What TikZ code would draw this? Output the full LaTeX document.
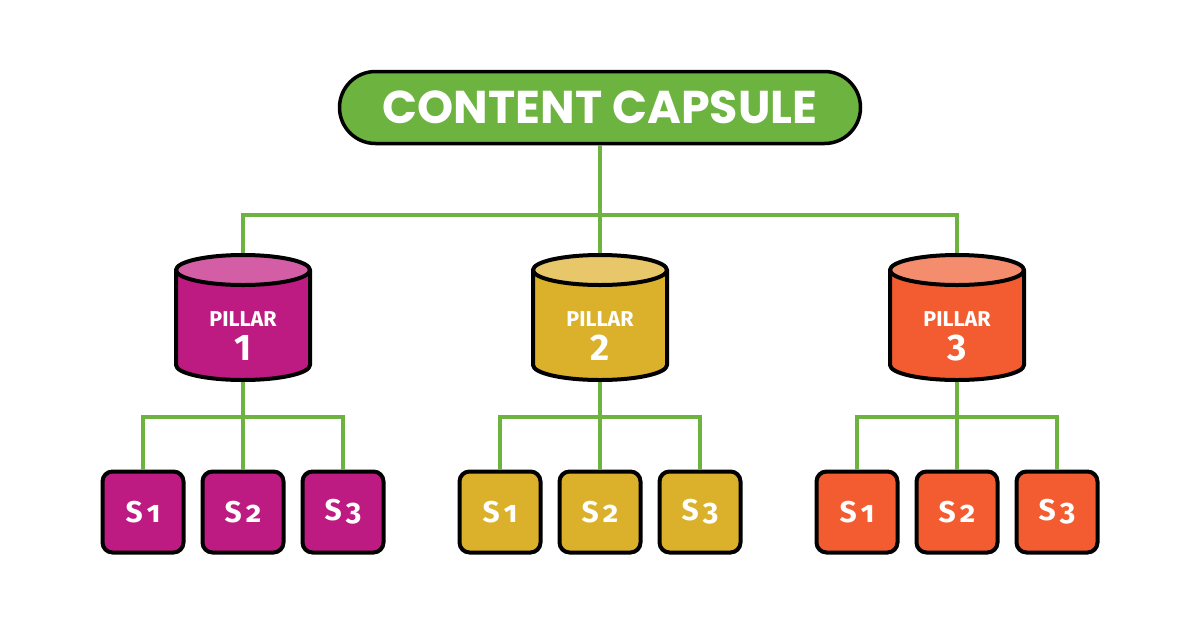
\documentclass[tikz,border=0pt]{standalone}
\usepackage{fontspec}
\usetikzlibrary{positioning,calc}
\newfontfamily\capsulefont{Poppins}
\newfontfamily\pillarfont{Fira Sans}
\newfontfamily\subfont{Fira Sans}[Numbers=OldStyle]
\definecolor{capgreen}{RGB}{108,179,63}
\definecolor{magbody}{RGB}{189,27,129}
\definecolor{magtop}{RGB}{211,94,165}
\definecolor{yelbody}{RGB}{219,176,42}
\definecolor{yeltop}{RGB}{231,199,106}
\definecolor{orabody}{RGB}{242,92,48}
\definecolor{oratop}{RGB}{244,140,110}
\tikzset{
    % green connectors
    link/.style = {draw=capgreen, line width=4pt},
    % Capsule on top
    node_cap/.style = {rectangle, rounded corners=36pt, draw=black, line width=3.5pt, fill=capgreen,
        minimum width=521pt, minimum height=72pt, inner sep=0pt},
    % Pillar place holder (the cylinder is drawn over it)
    node_pil/.style = {rectangle, minimum width=134pt, minimum height=125pt, inner sep=0pt, outer sep=2pt},
    pil_line/.style = {draw=black, line width=4pt, line join=round},
    pil_word/.style = {anchor=base, text=white, inner sep=0pt, font=\pillarfont\bfseries\fontsize{21.5}{21.5}\selectfont},
    pil_num/.style = {anchor=base, text=white, inner sep=0pt, font=\pillarfont\bfseries\fontsize{37}{37}\selectfont},
    % Sub-topic boxes
    node_sub/.style = {rectangle, rounded corners=10pt, draw=black, line width=4pt,
        minimum width=81pt, minimum height=81pt, inner sep=0pt, text=white,
        font=\subfont\bfseries\fontsize{30}{30}\selectfont}
}

\begin{document}
\begin{tikzpicture}[x=1pt, y=-1pt]
    \useasboundingbox (0,0) rectangle (1200,630);

    \node[node_cap] (capsule) at (600,107.5)
        {\capsulefont\bfseries\fontsize{46}{46}\selectfont\color{white}CONTENT CAPSULE};

    % pillars
    \node[node_pil] (p1) at (243,317.5) {};
    \node[node_pil] (p2) at (600,317.5) {};
    \node[node_pil] (p3) at (957,317.5) {};
    \foreach \p/\n/\b/\t in {p1/1/magbody/magtop, p2/2/yelbody/yeltop, p3/3/orabody/oratop}{
        \path[pil_line, fill=\b] ($(\p.center)+(-67,-47.5)$) -- ++(0,95)
            arc[start angle=180, end angle=0, x radius=67, y radius=15] -- ++(0,-95) -- cycle;
        \path[pil_line, fill=\t] ($(\p.center)+(0,-47.5)$) ellipse[x radius=67, y radius=15];
        \node[pil_word] (\p word) at ($(\p.center)+(0,8.5)$) {PILLAR};
        \node[pil_num] (\p num) at ($(\p.center)+(0,42.5)$) {\n};
    }

    % sub-topics
    \foreach \p/\c in {p1/magbody, p2/yelbody, p3/orabody}{
        \foreach \s/\dx in {1/-100, 2/0, 3/100}{
            \node[node_sub, fill=\c] (\p s\s) at ($(\p.center)+(\dx,194.5)$) {S\kern4pt\s};
        }
    }

    % connectors
    \draw[link] (capsule.south) -- (p2.north);
    \draw[link] (capsule.south) -- ++(0,70) -| (p1.north);
    \draw[link] (capsule.south) -- ++(0,70) -| (p3.north);
    \foreach \p in {p1, p2, p3}{
        \draw[link] (\p.south) -- (\p s2.north);
        \draw[link] (\p.south) -- ++(0,35) -| (\p s1.north);
        \draw[link] (\p.south) -- ++(0,35) -| (\p s3.north);
    }
\end{tikzpicture}
\end{document}
